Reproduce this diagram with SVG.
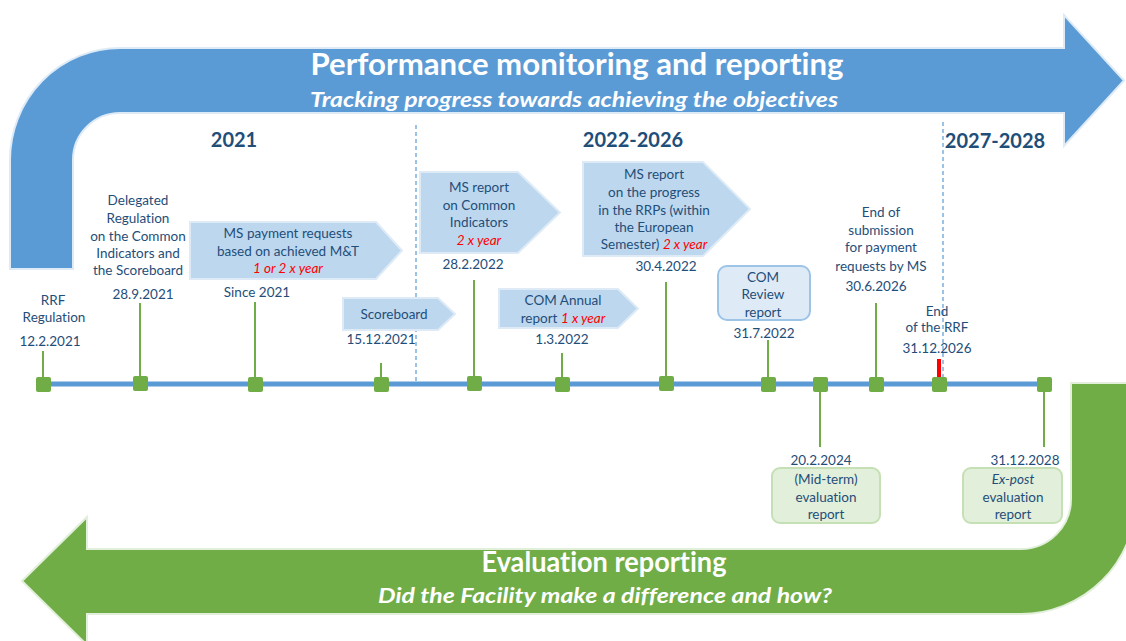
<svg xmlns="http://www.w3.org/2000/svg" width="1126" height="641" viewBox="0 0 1126 641">
<style>
text{font-family:Lato,"Open Sans","Liberation Sans",sans-serif;font-variant-ligatures:none;font-feature-settings:"liga" 0;}
.t{font-size:13.5px;fill:#1F4E79;text-anchor:middle;}
.r{fill:#FF0000;font-style:italic;}
.yr{font-size:20px;font-weight:bold;fill:#1F4E79;text-anchor:middle;}
.ttl{font-weight:bold;fill:#FFFFFF;text-anchor:middle;}
.pent{fill:#BDD7EE;stroke:#DEEBF7;stroke-width:2;}
.stem{stroke:#70AD47;stroke-width:2;}
.sq{fill:#70AD47;}
.dash{stroke:#5B9BD5;stroke-width:1.2;stroke-dasharray:4 3;fill:none;}
</style>
<rect width="1126" height="641" fill="#FFFFFF"/>

<g id="perf-arrow">
<path d="M10,269 L10,160 A110,112 0 0 1 120,48 L1064,48 L1064,15 L1124,80.5 L1064,146 L1064,113 L120,113 A47,47 0 0 0 73,160 L73,269 Z" fill="#5B9BD5" stroke="#DEEBF7" stroke-width="2"/>
<text class="ttl" x="577" y="75" font-size="30" textLength="533" lengthAdjust="spacingAndGlyphs">Performance monitoring and reporting</text>
<text class="ttl" x="574" y="107" font-size="20" font-style="italic" textLength="528" lengthAdjust="spacingAndGlyphs">Tracking progress towards achieving the objectives</text>
</g>

<g id="eval-arrow">
<path d="M22,581 L87,517 L87,549 L1021,549 A50,50 0 0 0 1071,499 L1071,383 L1136,383 L1136,499 A115,115 0 0 1 1021,614 L87,614 L87,645 Z" fill="#70AD47" stroke="#E2EFDA" stroke-width="2"/>
<text class="ttl" x="604" y="572" font-size="29" textLength="245" lengthAdjust="spacingAndGlyphs">Evaluation reporting</text>
<text class="ttl" x="605" y="603" font-size="21" font-style="italic" textLength="454" lengthAdjust="spacingAndGlyphs">Did the Facility make a difference and how?</text>
</g>

<g id="periods">
<text class="yr" x="234" y="147">2021</text>
<text class="yr" x="633" y="147">2022-2026</text>
<text class="yr" x="995" y="148">2027-2028</text>
<line class="dash" x1="416" y1="125" x2="416" y2="382"/>
<line class="dash" x1="943" y1="122" x2="943" y2="377"/>
</g>

<g id="connectors">
<line x1="43" y1="384" x2="1044" y2="384" stroke="#5B9BD5" stroke-width="5"/>
<line class="stem" x1="43" y1="351" x2="43" y2="378"/>
<line class="stem" x1="140" y1="303" x2="140" y2="378"/>
<line class="stem" x1="255" y1="302" x2="255" y2="378"/>
<line class="stem" x1="381" y1="363" x2="381" y2="378"/>
<line class="stem" x1="474" y1="280" x2="474" y2="378"/>
<line class="stem" x1="562" y1="353" x2="562" y2="378"/>
<line class="stem" x1="666" y1="282" x2="666" y2="378"/>
<line class="stem" x1="768" y1="340" x2="768" y2="378"/>
<line class="stem" x1="876" y1="303" x2="876" y2="378"/>
<line x1="939" y1="359" x2="939" y2="378" stroke="#FF0000" stroke-width="4"/>
<line class="stem" x1="820" y1="390" x2="820" y2="447"/>
<line class="stem" x1="1044" y1="390" x2="1044" y2="447"/>
<rect class="sq" x="36" y="377" width="15" height="15" rx="2"/>
<rect class="sq" x="133" y="376" width="15" height="15" rx="2"/>
<rect class="sq" x="248" y="377" width="15" height="15" rx="2"/>
<rect class="sq" x="374" y="377" width="15" height="15" rx="2"/>
<rect class="sq" x="467" y="376" width="15" height="15" rx="2"/>
<rect class="sq" x="555" y="377" width="15" height="15" rx="2"/>
<rect class="sq" x="659" y="376" width="15" height="15" rx="2"/>
<rect class="sq" x="761" y="377" width="15" height="15" rx="2"/>
<rect class="sq" x="813" y="377" width="15" height="15" rx="2"/>
<rect class="sq" x="869" y="377" width="15" height="15" rx="2"/>
<rect class="sq" x="932" y="377" width="15" height="15" rx="2"/>
<rect class="sq" x="1037" y="377" width="15" height="15" rx="2"/>
</g>

<g id="rrf-regulation">
<text class="t" x="53" y="305">RRF</text>
<text class="t" x="54" y="322">Regulation</text>
<text class="t" x="50" y="346">12.2.2021</text>
</g>

<g id="delegated-regulation">
<text class="t" x="138" y="205">Delegated</text>
<text class="t" x="138" y="223">Regulation</text>
<text class="t" x="138" y="241">on the Common</text>
<text class="t" x="138" y="258">Indicators and</text>
<text class="t" x="138" y="275">the Scoreboard</text>
<text class="t" x="143" y="299">28.9.2021</text>
</g>

<g id="ms-payment">
<polygon class="pent" points="190,222 376,222 402,250.5 376,279 190,279"/>
<text class="t" x="288" y="238">MS payment requests</text>
<text class="t" x="288" y="256">based on achieved M&amp;T</text>
<text class="t r" x="288" y="273">1 or 2 x year</text>
<text class="t" x="257" y="297">Since 2021</text>
</g>

<g id="scoreboard">
<polygon class="pent" points="343,298 438,298 455,314 438,330 343,330"/>
<text class="t" x="394" y="319">Scoreboard</text>
<text class="t" x="381" y="344">15.12.2021</text>
</g>

<g id="ms-common-indicators">
<polygon class="pent" points="420,172 518,172 560,212.5 518,253 420,253"/>
<text class="t" x="479" y="192">MS report</text>
<text class="t" x="479" y="210">on Common</text>
<text class="t" x="479" y="227">Indicators</text>
<text class="t r" x="479" y="245">2 x year</text>
<text class="t" x="473" y="269">28.2.2022</text>
</g>

<g id="com-annual">
<polygon class="pent" points="499,289 618,289 638,308.5 618,328 499,328"/>
<text class="t" x="563" y="305">COM Annual</text>
<text class="t" x="563" y="323">report <tspan class="r">1 x year</tspan></text>
<text class="t" x="562" y="344">1.3.2022</text>
</g>

<g id="ms-progress">
<polygon class="pent" points="583,162 703,162 750,209 703,256 583,256"/>
<text class="t" x="654" y="179">MS report</text>
<text class="t" x="654" y="197">on the progress</text>
<text class="t" x="654" y="215">in the RRPs (within</text>
<text class="t" x="654" y="232">the European</text>
<text class="t" x="654" y="249">Semester) <tspan class="r">2 x year</tspan></text>
<text class="t" x="666" y="271">30.4.2022</text>
</g>

<g id="com-review">
<rect x="718" y="266" width="92" height="54" rx="9" fill="#DEEBF7" stroke="#9DC3E6" stroke-width="2"/>
<text class="t" x="763" y="282">COM</text>
<text class="t" x="763" y="299">Review</text>
<text class="t" x="763" y="317">report</text>
<text class="t" x="764" y="338">31.7.2022</text>
</g>

<g id="end-submission">
<text class="t" x="881" y="217">End of</text>
<text class="t" x="881" y="235">submission</text>
<text class="t" x="881" y="252">for payment</text>
<text class="t" x="881" y="271">requests by MS</text>
<text class="t" x="876" y="291">30.6.2026</text>
</g>

<g id="end-rrf">
<text class="t" x="937" y="316">End</text>
<text class="t" x="937" y="332">of the RRF</text>
<text class="t" x="937" y="353">31.12.2026</text>
</g>

<g id="mid-term">
<text class="t" x="821" y="465">20.2.2024</text>
<rect x="772" y="468" width="108" height="55" rx="8" fill="#E2EFDA" stroke="#C5E0B4" stroke-width="2"/>
<text class="t" x="826" y="484">(Mid-term)</text>
<text class="t" x="826" y="502">evaluation</text>
<text class="t" x="826" y="519">report</text>
</g>

<g id="ex-post">
<text class="t" x="1025" y="465">31.12.2028</text>
<rect x="963" y="468" width="99" height="55" rx="8" fill="#E2EFDA" stroke="#C5E0B4" stroke-width="2"/>
<text class="t" x="1013" y="484" font-style="italic">Ex-post</text>
<text class="t" x="1013" y="502">evaluation</text>
<text class="t" x="1013" y="519">report</text>
</g>
</svg>
